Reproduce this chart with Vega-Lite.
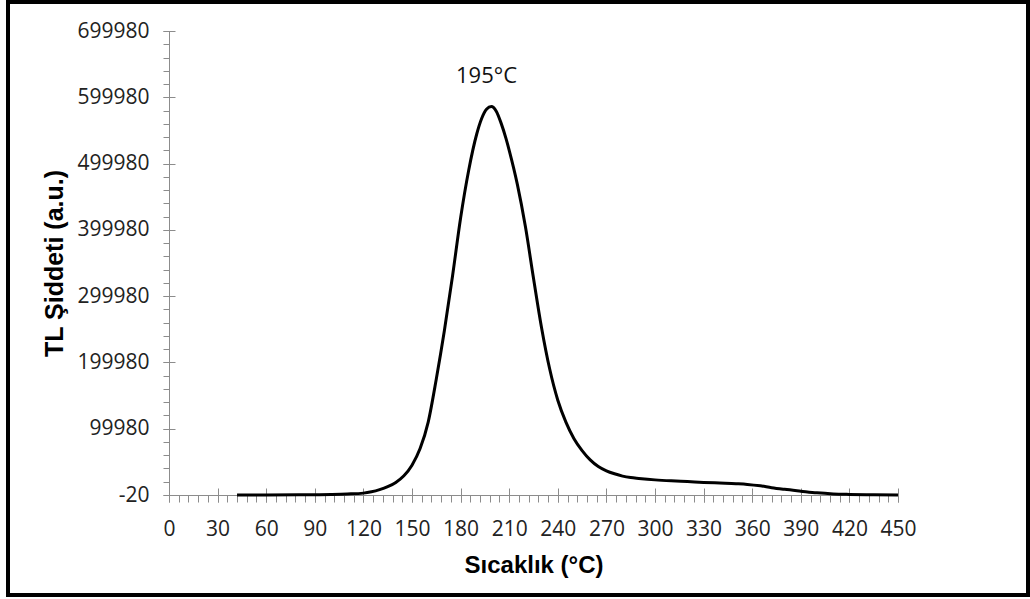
{
  "$schema": "https://vega.github.io/schema/vega-lite/v6.json",
  "width": 1020,
  "height": 593,
  "autosize": {"type": "none"},
  "padding": {"left": 8, "top": 2, "right": 2, "bottom": 4},
  "background": "white",
  "config": {
    "view": {"stroke": "black", "strokeWidth": 4},
    "axis": {
      "domainColor": "#8c8c8c",
      "tickColor": "#8c8c8c",
      "grid": false,
      "labelFont": "Open Sans",
      "labelFontSize": 21,
      "labelColor": "#222222",
      "titleFont": "Liberation Sans",
      "titleFontSize": 24,
      "titleFontWeight": "bold",
      "titleColor": "#000000",
      "domainWidth": 1,
      "tickWidth": 1,
      "labelFlush": false,
      "labelOverlap": false,
      "labelBound": false
    }
  },
  "resolve": {"axis": {"x": "independent", "y": "independent"}},
  "layer": [
    {
      "data": {
        "values": [
          {"T": 42, "I": 0}, {"T": 60, "I": 0}, {"T": 80, "I": 200}, {"T": 100, "I": 800},
          {"T": 110, "I": 1500}, {"T": 120, "I": 2800}, {"T": 125, "I": 4800}, {"T": 130, "I": 8000},
          {"T": 135, "I": 12500}, {"T": 140, "I": 19000}, {"T": 145, "I": 29000}, {"T": 150, "I": 45000},
          {"T": 155, "I": 70000}, {"T": 160, "I": 110000}, {"T": 165, "I": 175000}, {"T": 170, "I": 248000},
          {"T": 175, "I": 330000}, {"T": 180, "I": 418000}, {"T": 185, "I": 490000}, {"T": 190, "I": 545000},
          {"T": 193, "I": 568000}, {"T": 196, "I": 582000}, {"T": 199, "I": 586000}, {"T": 202, "I": 579000},
          {"T": 205, "I": 561000}, {"T": 208, "I": 538000}, {"T": 210, "I": 520000}, {"T": 215, "I": 469000},
          {"T": 220, "I": 405000}, {"T": 225, "I": 327000}, {"T": 230, "I": 252000}, {"T": 235, "I": 190000},
          {"T": 240, "I": 143000}, {"T": 245, "I": 110000}, {"T": 250, "I": 85000}, {"T": 255, "I": 67000},
          {"T": 260, "I": 53000}, {"T": 265, "I": 43000}, {"T": 270, "I": 36500}, {"T": 275, "I": 32000},
          {"T": 280, "I": 28500}, {"T": 285, "I": 26300}, {"T": 290, "I": 25000}, {"T": 300, "I": 22800},
          {"T": 310, "I": 21300}, {"T": 320, "I": 20200}, {"T": 330, "I": 19000}, {"T": 340, "I": 18000},
          {"T": 350, "I": 17000}, {"T": 357, "I": 16000}, {"T": 365, "I": 13800}, {"T": 372, "I": 11000},
          {"T": 380, "I": 8500}, {"T": 390, "I": 5800}, {"T": 400, "I": 3200}, {"T": 410, "I": 1600},
          {"T": 420, "I": 900}, {"T": 435, "I": 400}, {"T": 450, "I": 0}
        ]
      },
      "mark": {"type": "line", "color": "black", "strokeWidth": 3, "interpolate": "monotone"},
      "encoding": {
        "x": {
          "field": "T",
          "type": "quantitative",
          "scale": {"domain": [0, 450], "range": [161, 890], "nice": false, "zero": false},
          "axis": {
            "orient": "bottom",
            "offset": -100,
            "values": [0,6,12,18,24,30,36,42,48,54,60,66,72,78,84,90,96,102,108,114,120,126,132,138,144,150,156,162,168,174,180,186,192,198,204,210,216,222,228,234,240,246,252,258,264,270,276,282,288,294,300,306,312,318,324,330,336,342,348,354,360,366,372,378,384,390,396,402,408,414,420,426,432,438,444,450],
            "labelExpr": "datum.value % 30 == 0 ? datum.label : ''",
            "tickSize": 7,
            "labelPadding": 16,
            "title": "Sıcaklık (°C)",
            "titleFontSize": 24,
            "titlePadding": 14
          }
        },
        "y": {
          "field": "I",
          "type": "quantitative",
          "scale": {"domain": [-20, 699980], "range": [493, 29], "nice": false, "zero": false},
          "axis": {
            "orient": "left",
            "offset": -161,
            "values": [-20,19980,39980,59980,79980,99980,119980,139980,159980,179980,199980,219980,239980,259980,279980,299980,319980,339980,359980,379980,399980,419980,439980,459980,479980,499980,519980,539980,559980,579980,599980,619980,639980,659980,679980,699980],
            "labelExpr": "(datum.value + 20) % 100000 == 0 ? '' + datum.value : ''",
            "tickSize": 6,
            "labelPadding": 14,
            "title": "TL Şiddeti (a.u.)",
            "titleFontSize": 25,
            "titlePadding": 9
          }
        }
      }
    },
    {
      "data": {"values": [{"T": 196, "I": 621000, "label": "195°C"}]},
      "mark": {"type": "text", "font": "Open Sans", "fontSize": 22, "color": "#111111", "baseline": "alphabetic", "align": "center"},
      "encoding": {
        "x": {
          "field": "T",
          "type": "quantitative",
          "axis": {
            "orient": "bottom",
            "offset": -107,
            "values": [0,30,60,90,120,150,180,210,240,270,300,330,360,390,420,450],
            "tickSize": 14,
            "labels": false,
            "domain": false,
            "title": null
          }
        },
        "y": {
          "field": "I",
          "type": "quantitative",
          "axis": {
            "orient": "left",
            "offset": -167,
            "values": [-20,99980,199980,299980,399980,499980,599980,699980],
            "tickSize": 12,
            "labels": false,
            "domain": false,
            "title": null
          }
        },
        "text": {"field": "label"}
      }
    }
  ]
}
